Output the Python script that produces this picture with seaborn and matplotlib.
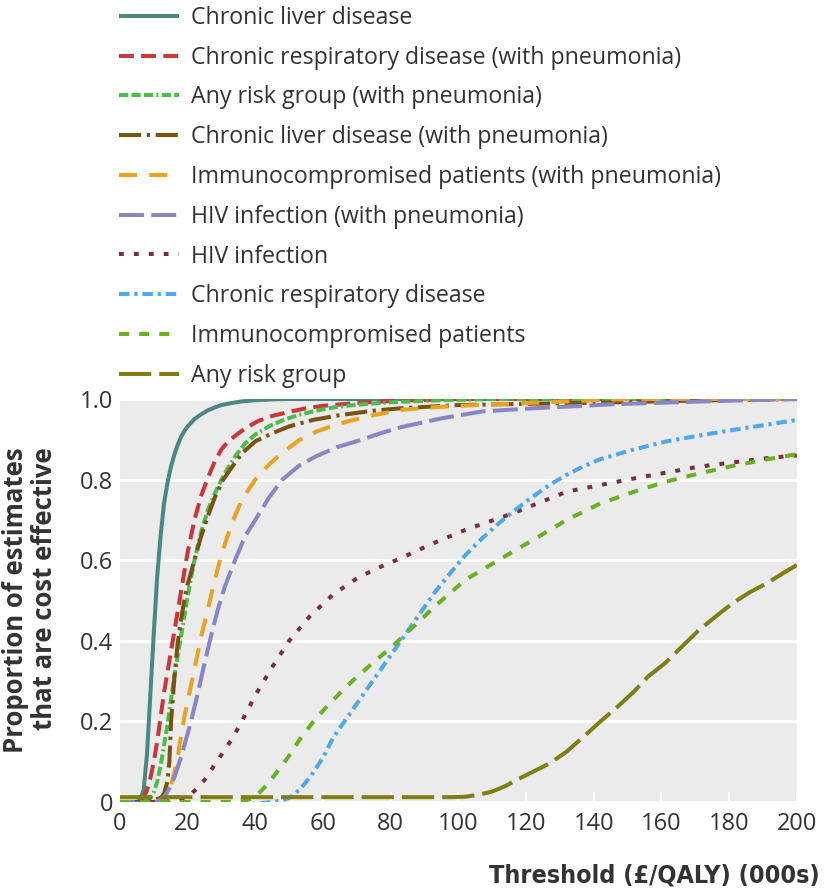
import matplotlib
matplotlib.use('Agg')
import matplotlib.pyplot as plt
import seaborn as sns
import pandas as pd

# curves (threshold in £000s / proportion)
liver_x = [0, 5, 6, 7, 8, 9, 10, 11, 12, 13, 14, 15, 16, 17, 18, 19, 20, 22, 24, 26, 28, 30, 33, 36, 40, 45, 50, 200]
liver_y = [0, 0, 0.005, 0.03, 0.12, 0.27, 0.42, 0.56, 0.66, 0.74, 0.79, 0.83, 0.86, 0.885, 0.905, 0.92, 0.932, 0.95,
           0.962, 0.972, 0.979, 0.985, 0.99, 0.994, 0.997, 0.999, 1.0, 1.0]

resp_pn_x = [0, 5, 7, 8, 9, 10, 11, 12, 13, 14, 15, 16, 17, 18, 19, 20, 22, 24, 26, 28, 30, 32, 35, 38, 41, 45, 50,
             55, 60, 70, 80, 100, 200]
resp_pn_y = [0, 0, 0.01, 0.03, 0.06, 0.1, 0.15, 0.21, 0.27, 0.32, 0.37, 0.42, 0.47, 0.52, 0.57, 0.62, 0.7, 0.76,
             0.805, 0.845, 0.875, 0.895, 0.915, 0.932, 0.946, 0.958, 0.968, 0.977, 0.983, 0.99, 0.995, 1.0, 1.0]

any_pn_x = [0, 7, 9, 10, 11, 12, 13, 14, 15, 16, 17, 18, 19, 20, 22, 24, 26, 28, 30, 32, 34, 37, 40, 44, 48, 53, 58,
            63, 70, 80, 95, 110, 200]
any_pn_y = [0, 0, 0.01, 0.025, 0.05, 0.09, 0.14, 0.19, 0.25, 0.31, 0.36, 0.41, 0.46, 0.51, 0.6, 0.67, 0.725, 0.765,
            0.8, 0.83, 0.857, 0.89, 0.912, 0.932, 0.947, 0.961, 0.971, 0.979, 0.986, 0.992, 0.997, 1.0, 1.0]

liver_pn_x = [0, 8, 10, 12, 13, 14, 14.6, 15.1, 16, 17, 18, 19, 20, 22, 24, 26, 28, 30.5, 33, 36, 40, 45, 50, 57, 65,
              75, 83, 100, 120, 142, 170, 200]
liver_pn_y = [0, 0, 0.005, 0.01, 0.02, 0.05, 0.1, 0.2, 0.3, 0.39, 0.45, 0.5, 0.54, 0.6, 0.66, 0.71, 0.755, 0.8, 0.83,
              0.865, 0.895, 0.915, 0.932, 0.948, 0.96, 0.971, 0.977, 0.985, 0.988, 0.991, 0.996, 1.0]

immuno_pn_x = [0, 10, 12, 14, 15, 16, 17, 18, 19, 20, 22, 24, 26, 28, 30, 33, 36, 40, 44, 48, 53, 58, 64, 69, 75, 83,
               92, 100, 120, 150, 200]
immuno_pn_y = [0, 0, 0.005, 0.02, 0.04, 0.07, 0.11, 0.16, 0.21, 0.25, 0.33, 0.41, 0.48, 0.55, 0.615, 0.69, 0.75,
               0.8, 0.837, 0.867, 0.898, 0.919, 0.937, 0.948, 0.96, 0.973, 0.979, 0.983, 0.99, 1.0, 1.0]

hiv_pn_x = [0, 11, 13, 15, 16, 17, 18, 19, 20, 21, 23, 25, 27, 29, 31, 34, 37, 40, 44, 48, 53, 58, 64, 71, 77, 83,
            95, 107, 120, 132, 146, 161, 181, 200]
hiv_pn_y = [0, 0, 0.01, 0.04, 0.06, 0.085, 0.11, 0.14, 0.17, 0.2, 0.27, 0.345, 0.415, 0.48, 0.535, 0.6, 0.66, 0.7,
            0.755, 0.8, 0.835, 0.858, 0.88, 0.898, 0.915, 0.93, 0.952, 0.969, 0.976, 0.981, 0.987, 0.991, 0.996, 1.0]

hiv_x = [0, 12, 16, 19, 21, 23, 25, 27, 29, 31, 33, 36, 40, 45, 50, 56, 63, 70, 76, 83, 92, 102, 116, 132, 152, 171,
         191, 200]
hiv_y = [0, 0, 0.003, 0.01, 0.02, 0.035, 0.055, 0.08, 0.105, 0.13, 0.155, 0.2, 0.265, 0.335, 0.4, 0.46, 0.515, 0.555,
         0.58, 0.605, 0.64, 0.675, 0.716, 0.77, 0.803, 0.832, 0.853, 0.86]

resp_x = [0, 12, 20, 30, 40, 45, 48, 50, 53, 56, 60, 63, 68, 73, 78, 83, 88, 93, 98, 102, 107, 112, 117, 122, 127, 132,
          137, 142, 152, 161, 171, 181, 191, 200]
resp_y = [0, -0.006, -0.007, -0.006, -0.004, 0.0, 0.004, 0.01, 0.03, 0.06, 0.11, 0.16, 0.22, 0.28, 0.34, 0.4, 0.46,
          0.52, 0.572, 0.612, 0.654, 0.692, 0.726, 0.758, 0.787, 0.812, 0.833, 0.851, 0.875, 0.894, 0.909, 0.923,
          0.936, 0.948]

immuno_x = [0, 34, 36, 38, 40, 42, 44, 46, 50, 53, 57, 61, 65, 69, 75, 81, 88, 93, 102, 112, 122, 132, 142, 152, 161,
            171, 181, 191, 200]
immuno_y = [0, 0, 0.002, 0.006, 0.013, 0.03, 0.048, 0.07, 0.115, 0.154, 0.198, 0.236, 0.27, 0.303, 0.347, 0.39,
            0.445, 0.485, 0.551, 0.601, 0.65, 0.7, 0.741, 0.77, 0.794, 0.815, 0.834, 0.85, 0.863]

anyrisk_x = [0, 50, 90, 98, 102, 106, 110, 114, 117, 122, 127, 132, 137, 142, 147, 152, 156, 161, 166, 171, 176, 181,
             186, 191, 196, 200]
anyrisk_y = [0.012, 0.012, 0.012, 0.012, 0.013, 0.018, 0.026, 0.04, 0.054, 0.075, 0.096, 0.125, 0.162, 0.2, 0.236,
             0.275, 0.311, 0.344, 0.385, 0.426, 0.46, 0.493, 0.52, 0.542, 0.568, 0.588]

labels = [
    "Chronic liver disease",
    "Chronic respiratory disease (with pneumonia)",
    "Any risk group (with pneumonia)",
    "Chronic liver disease (with pneumonia)",
    "Immunocompromised patients (with pneumonia)",
    "HIV infection (with pneumonia)",
    "HIV infection",
    "Chronic respiratory disease",
    "Immunocompromised patients",
    "Any risk group",
]
series = [
    (liver_x, liver_y), (resp_pn_x, resp_pn_y), (any_pn_x, any_pn_y),
    (liver_pn_x, liver_pn_y), (immuno_pn_x, immuno_pn_y), (hiv_pn_x, hiv_pn_y),
    (hiv_x, hiv_y), (resp_x, resp_y), (immuno_x, immuno_y), (anyrisk_x, anyrisk_y),
]

colors = ["#4b8783", "#c9363b", "#4cbd4a", "#7a5312", "#e9a224",
          "#8a86c6", "#7b2f3d", "#4ea8ee", "#68b123", "#7f7e12"]
dashes = [
    None,
    (3.7, 1.8),
    (2.3, 0.8, 2.3, 0.8, 2.3, 0.8, 0.5, 0.8),
    (5.5, 1.4, 0.8, 1.4),
    (4.5, 3.0),
    (6.2, 1.8),
    (1.2, 2.5),
    (2.6, 1.2, 0.8, 1.2),
    (2.5, 2.5),
    (8, 2),
]

sns.set_style("darkgrid")
plt.rcParams['font.family'] = ['Open Sans', 'DejaVu Sans']

fig = plt.figure(figsize=(8.24, 8.92), dpi=100)
ax = fig.add_axes([0.1456, 0.1009, 0.8214, 0.4518])
ax.set_facecolor("#ebebeb")

handles = []
for (xs, ys), lab, col, ds in zip(series, labels, colors, dashes):
    df = pd.DataFrame({"x": xs, "y": ys})
    sns.lineplot(data=df, x="x", y="y", ax=ax, color=col, lw=2.9, label=lab, legend=False)
    ln = ax.lines[-1]
    if ds is not None:
        ln.set_dashes(ds)
    ln.set_dash_capstyle('butt')
    ln.set_solid_capstyle('butt')
    handles.append(ln)

ax.set_xlim(0, 200)
ax.set_ylim(0, 1.0)
ax.set_xticks(range(0, 201, 20))
ax.set_yticks([0, 0.2, 0.4, 0.6, 0.8, 1.0])
ax.set_yticklabels(["0", "0.2", "0.4", "0.6", "0.8", "1.0"])
ax.grid(axis='x', visible=False)
ax.grid(axis='y', color='white', lw=2.2)
for s in ax.spines.values():
    s.set_visible(False)
ax.tick_params(axis='x', direction='in', length=7, width=1.5, color='white', pad=7,
               labelsize=17, labelcolor='#333333', bottom=True)
ax.tick_params(axis='y', length=0, pad=5, labelsize=17, labelcolor='#333333')
ax.set_xlabel("")
ax.set_ylabel("Proportion of estimates\nthat are cost effective", fontsize=18.5, fontweight='bold',
              color='#333333', multialignment='right', linespacing=1.1)
ax.yaxis.set_label_coords(-0.0916, 0.5)
fig.text(0.995, 0.0101, "Threshold (£/QALY) (000s)", ha='right', va='baseline', fontsize=18,
         fontweight='bold', fontstretch='condensed', color='#333333', family='DejaVu Sans')

fig.legend(handles=handles, labels=labels, loc='upper left', bbox_to_anchor=(0.142, 0.996),
           frameon=False, fontsize=16.7, handlelength=2.59, handletextpad=0.52,
           labelspacing=0.68, borderaxespad=0.0, borderpad=0.1, labelcolor='#333333')

fig.savefig("out.png", dpi=100)
